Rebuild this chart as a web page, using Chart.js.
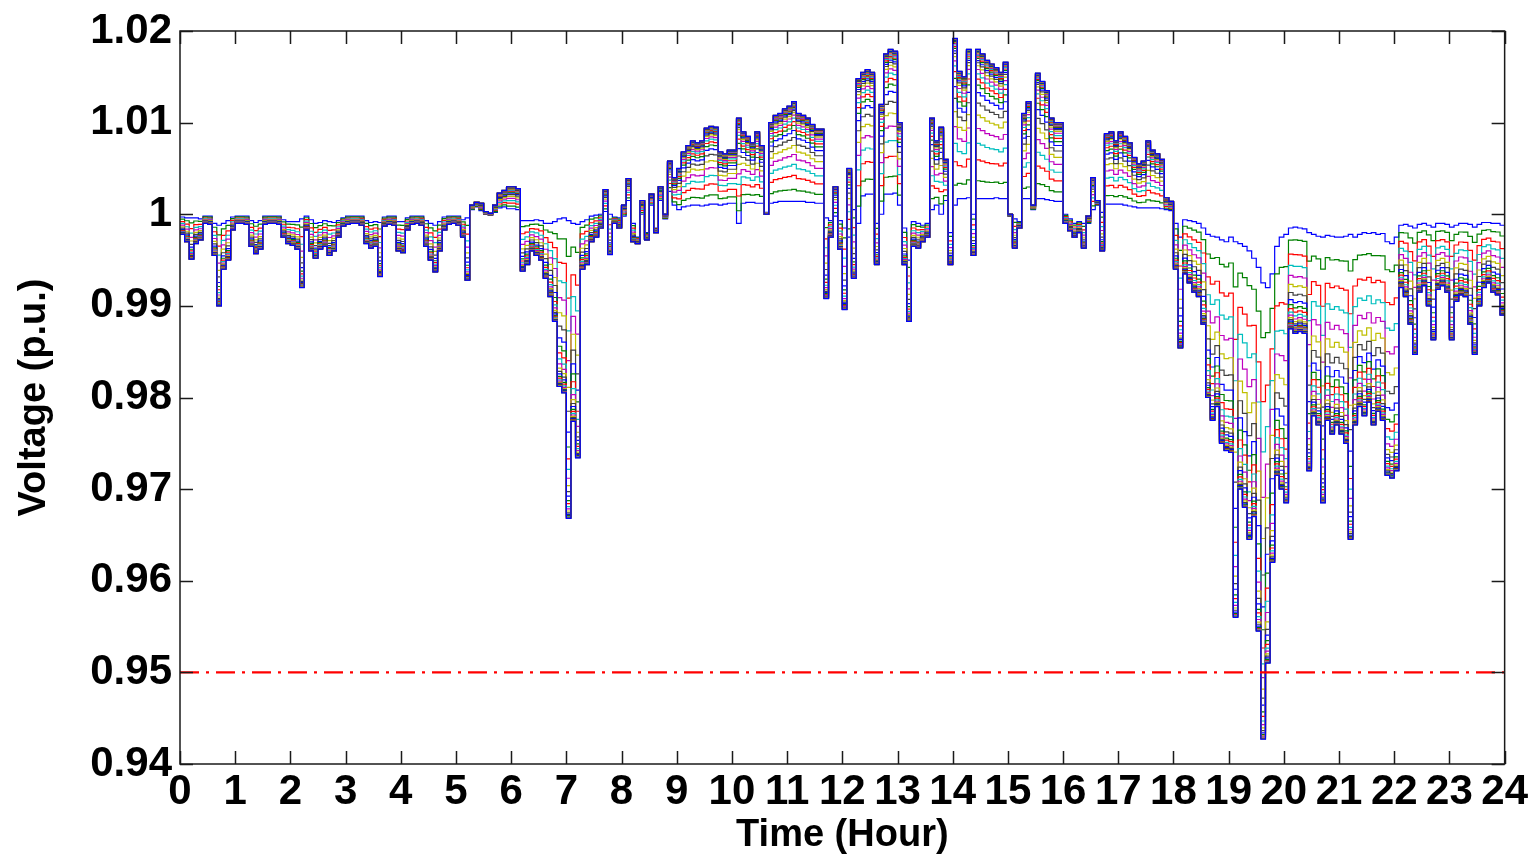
<!DOCTYPE html>
<html>
  <head>
    <script src="https://cdn.jsdelivr.net/npm/chart.js@4/dist/chart.umd.min.js"></script>
    <style>
      body { margin: 0; background: #fff; }
    </style>
  </head>

  <body>
    <canvas id="canvas" width="1535" height="855"></canvas>
    <script>
      // sample step of the profiles, in hours (5 min)
      const stepHours = 1 / 12;

      // node 1 (closest to the substation), one row per hour, last value = 24:00
      const baseV = [
        0.9997, 0.9996, 0.9996, 0.9996, 0.9995, 0.9998, 0.9998, 0.9990, 0.9988, 0.9990, 0.9993, 0.9997,
        0.9998, 0.9998, 0.9998, 0.9993, 0.9991, 0.9993, 0.9998, 0.9998, 0.9998, 0.9998, 0.9994, 0.9992,
        0.9992, 0.9992, 0.9995, 0.9998, 0.9994, 0.9990, 0.9991, 0.9993, 0.9992, 0.9991, 0.9993, 0.9996,
        0.9998, 0.9998, 0.9998, 0.9998, 0.9993, 0.9991, 0.9992, 0.9991, 0.9997, 0.9998, 0.9998, 0.9992,
        0.9992, 0.9996, 0.9998, 0.9998, 0.9998, 0.9993, 0.9990, 0.9988, 0.9992, 0.9997, 0.9998, 0.9998,
        0.9998, 0.9994, 0.9996, 1.0005, 1.0008, 1.0004, 1.0000, 0.9999, 1.0002, 1.0007, 1.0008, 1.0006,
        1.0006, 1.0005, 0.9993, 0.9993, 0.9993, 0.9994, 0.9993, 0.9990, 0.9990, 0.9992, 0.9995, 0.9996,
        0.9993, 0.9990, 0.9989, 0.9992, 0.9994, 0.9998, 0.9999, 1.0000, 1.0003, 1.0000, 0.9997, 0.9996,
        0.9998, 1.0015, 0.9990, 0.9975, 1.0000, 0.9980, 1.0010, 0.9985, 1.0015, 0.9995, 1.0025, 1.0010,
        1.0005, 1.0008, 1.0009, 1.0010, 1.0010, 1.0009, 1.0010, 1.0011, 1.0011, 1.0010, 1.0011, 1.0012,
        1.0012, 0.9990, 1.0012, 1.0013, 1.0013, 1.0012, 1.0012, 1.0002, 1.0012, 1.0013, 1.0014, 1.0014,
        1.0014, 1.0014, 1.0014, 1.0014, 1.0013, 1.0013, 1.0012, 1.0012, 0.9996, 0.9993, 0.9998, 0.9993,
        0.9985, 0.9975, 1.0005, 0.9990, 1.0020, 1.0022, 1.0022, 0.9990, 1.0000, 1.0022, 1.0022, 1.0023,
        1.0010, 0.9985, 0.9950, 0.9992, 0.9990, 0.9988, 0.9990, 1.0005, 1.0010, 1.0000, 1.0015, 0.9980,
        1.0010, 1.0017, 1.0017, 1.0018, 1.0000, 1.0017, 1.0017, 1.0017, 1.0017, 1.0018, 1.0017, 1.0017,
        0.9998, 0.9995, 0.9992, 1.0017, 1.0017, 1.0005, 1.0017, 1.0017, 1.0016, 1.0015, 1.0014, 1.0014,
        1.0000, 0.9995, 0.9990, 0.9992, 0.9990, 0.9990, 1.0005, 1.0010, 1.0002, 1.0011, 1.0011, 1.0011,
        1.0011, 1.0010, 1.0009, 1.0008, 1.0007, 1.0007, 1.0007, 1.0007, 1.0007, 1.0006, 1.0005, 1.0004,
        0.9990, 0.9975, 0.9994, 0.9993, 0.9992, 0.9990, 0.9985, 0.9978, 0.9976, 0.9975, 0.9972, 0.9970,
        0.9975, 0.9970, 0.9968, 0.9965, 0.9960, 0.9952, 0.9942, 0.9925, 0.9920, 0.9935, 0.9965, 0.9975,
        0.9978, 0.9985, 0.9986, 0.9985, 0.9984, 0.9980, 0.9978, 0.9976, 0.9975, 0.9977, 0.9976, 0.9975,
        0.9975, 0.9976, 0.9978, 0.9975, 0.9978, 0.9980, 0.9979, 0.9980, 0.9978, 0.9979, 0.9970, 0.9968,
        0.9975, 0.9988, 0.9989, 0.9987, 0.9985, 0.9989, 0.9990, 0.9988, 0.9986, 0.9990, 0.9990, 0.9989,
        0.9986, 0.9988, 0.9990, 0.9990, 0.9989, 0.9986, 0.9989, 0.9991, 0.9991, 0.9990, 0.9990, 0.9988,
        0.9988,
      ];

      // feeder end node (largest deviation), same time grid
      const endV = [
        0.9978, 0.9970, 0.9951, 0.9968, 0.9972, 0.9990, 0.9989, 0.9955, 0.9900, 0.9940, 0.9950, 0.9983,
        0.9990, 0.9990, 0.9989, 0.9965, 0.9957, 0.9962, 0.9989, 0.9990, 0.9990, 0.9989, 0.9975, 0.9968,
        0.9966, 0.9962, 0.9920, 0.9983, 0.9960, 0.9952, 0.9962, 0.9965, 0.9955, 0.9960, 0.9975, 0.9987,
        0.9989, 0.9990, 0.9990, 0.9988, 0.9968, 0.9963, 0.9965, 0.9932, 0.9987, 0.9989, 0.9988, 0.9960,
        0.9958, 0.9983, 0.9989, 0.9990, 0.9988, 0.9965, 0.9950, 0.9937, 0.9960, 0.9983, 0.9989, 0.9990,
        0.9988, 0.9975, 0.9928, 1.0010, 1.0013, 1.0012, 1.0003, 1.0001, 1.0010, 1.0023, 1.0026, 1.0030,
        1.0030, 1.0028, 0.9938, 0.9945, 0.9960, 0.9955, 0.9950, 0.9930, 0.9910, 0.9883, 0.9812, 0.9805,
        0.9668, 0.9774, 0.9734, 0.9940, 0.9945, 0.9970, 0.9975, 0.9985, 1.0027, 0.9956, 0.9990, 0.9985,
        1.0010, 1.0039, 0.9970, 0.9968, 1.0015, 0.9972, 1.0022, 0.9980, 1.0030, 1.0000, 1.0058, 1.0040,
        1.0050, 1.0068, 1.0075, 1.0080, 1.0078, 1.0080, 1.0094, 1.0096, 1.0095, 1.0068, 1.0066, 1.0070,
        1.0070, 1.0105, 1.0090, 1.0085, 1.0078, 1.0090, 1.0075, 1.0000, 1.0100, 1.0108, 1.0110, 1.0115,
        1.0118, 1.0123, 1.0110, 1.0108, 1.0105, 1.0098, 1.0093, 1.0093, 0.9908, 0.9975, 1.0030, 0.9962,
        0.9896, 1.0050, 0.9930, 1.0148, 1.0155, 1.0158, 1.0155, 0.9945, 1.0120, 1.0175, 1.0180, 1.0178,
        1.0100, 0.9945, 0.9883, 0.9965, 0.9963, 0.9970, 0.9975, 1.0105, 1.0080, 1.0095, 1.0060, 0.9945,
        1.0192, 1.0156, 1.0150, 1.0180, 0.9955, 1.0180, 1.0175, 1.0168, 1.0164, 1.0160, 1.0155, 1.0166,
        1.0000, 0.9963, 0.9985, 1.0110, 1.0123, 1.0010, 1.0154, 1.0145, 1.0135, 1.0105, 1.0100, 1.0100,
        0.9990, 0.9982, 0.9975, 0.9980, 0.9963, 0.9998, 1.0040, 1.0015, 0.9960, 1.0088, 1.0090, 1.0080,
        1.0090, 1.0085, 1.0078, 1.0062, 1.0055, 1.0058, 1.0080, 1.0070, 1.0066, 1.0060, 1.0018, 1.0014,
        0.9940, 0.9854, 0.9935, 0.9925, 0.9915, 0.9910, 0.9880, 0.9800, 0.9775, 0.9790, 0.9750, 0.9742,
        0.9740, 0.9560, 0.9700, 0.9680, 0.9645, 0.9670, 0.9545, 0.9427, 0.9510, 0.9620, 0.9715, 0.9700,
        0.9685, 0.9875, 0.9870, 0.9872, 0.9870, 0.9720, 0.9780, 0.9770, 0.9685, 0.9775, 0.9760, 0.9770,
        0.9760, 0.9750, 0.9645, 0.9770, 0.9790, 0.9780, 0.9795, 0.9770, 0.9785, 0.9775, 0.9715, 0.9712,
        0.9720, 0.9920, 0.9910, 0.9880, 0.9847, 0.9915, 0.9922, 0.9900, 0.9863, 0.9918, 0.9922, 0.9915,
        0.9863, 0.9905, 0.9912, 0.9910, 0.9880, 0.9847, 0.9900, 0.9920, 0.9925, 0.9915, 0.9912, 0.9890,
        0.9895,
      ];

      // share of the end-node deviation seen at each node along the feeder
      const nodeShare = [
        0, 0.12, 0.26, 0.37, 0.47, 0.56, 0.64, 0.71, 0.76, 0.80, 0.835, 0.865, 0.89, 0.91, 0.925,
        0.94, 0.95, 0.96, 0.968, 0.975, 0.981, 0.986, 0.99, 0.993, 0.995, 0.997, 0.998, 0.999, 1,
      ];

      // old MATLAB line order: b g r c m y k
      const lineColors = ['#0000ff', '#008000', '#ff0000', '#00bfbf', '#bf00bf', '#bfbf00', '#404040'];

      const hourTicks = [0, 1, 2, 3, 4, 5, 6, 7, 8, 9, 10, 11, 12, 13, 14, 15, 16, 17, 18, 19, 20, 21, 22, 23, 24];
      const voltTicks = [0.94, 0.95, 0.96, 0.97, 0.98, 0.99, 1.0, 1.01, 1.02];
      const limitV = 0.95;

      const datasets = nodeShare.map((f, k) => ({
        data: baseV.map((b, i) => ({ x: i * stepHours, y: b + f * (endV[i] - b) })),
        borderColor: lineColors[k % lineColors.length],
        borderWidth: 1.2,
        pointRadius: 0,
        stepped: true,
        order: nodeShare.length - k,
      }));

      // lower voltage limit, dash-dot
      datasets.push({
        data: [{ x: hourTicks[0], y: limitV }, { x: hourTicks[hourTicks.length - 1], y: limitV }],
        borderColor: '#ff0000',
        borderWidth: 2.4,
        borderDash: [19, 7, 3, 7],
        pointRadius: 0,
        order: -1,
      });

      // MATLAB-style box with ticks pointing inwards on all four sides
      const boxTicks = {
        id: 'boxTicks',
        afterDatasetsDraw(chart) {
          const { ctx, chartArea: a, scales } = chart;
          const len = 13;
          ctx.save();
          ctx.strokeStyle = '#1a1a1a';
          ctx.lineWidth = 1.5;
          ctx.beginPath();
          scales.x.ticks.forEach((t) => {
            const px = Math.round(scales.x.getPixelForValue(t.value)) + 0.5;
            ctx.moveTo(px, a.bottom);
            ctx.lineTo(px, a.bottom - len);
            ctx.moveTo(px, a.top);
            ctx.lineTo(px, a.top + len);
          });
          scales.y.ticks.forEach((t) => {
            const py = Math.round(scales.y.getPixelForValue(t.value)) + 0.5;
            ctx.moveTo(a.left, py);
            ctx.lineTo(a.left + len, py);
            ctx.moveTo(a.right, py);
            ctx.lineTo(a.right - len, py);
          });
          ctx.stroke();
          ctx.strokeRect(a.left, a.top, a.right - a.left, a.bottom - a.top);
          ctx.restore();
        },
      };

      const tickFont = { family: 'Liberation Sans', weight: 'bold', size: 42, lineHeight: 1 };
      const titleFont = { family: 'Liberation Sans', weight: 'bold', size: 38, lineHeight: 1 };

      new Chart(document.getElementById('canvas').getContext('2d'), {
        type: 'line',
        data: { datasets },
        plugins: [boxTicks],
        options: {
          responsive: false,
          devicePixelRatio: 1,
          animation: false,
          events: [],
          layout: { padding: { left: 0, right: 28, top: 31, bottom: 0 } },
          plugins: {
            legend: { display: false },
            tooltip: { enabled: false },
          },
          scales: {
            x: {
              type: 'linear',
              min: 0,
              max: 24,
              afterBuildTicks: (s) => { s.ticks = hourTicks.map((v) => ({ value: v })); },
              afterFit: (s) => { s.height = 855 - 764; },
              grid: { display: false, drawTicks: false },
              border: { display: false },
              ticks: {
                color: '#000',
                font: tickFont,
                padding: 7,
                maxRotation: 0,
                autoSkip: false,
                callback: (v) => String(v),
              },
              title: {
                display: true,
                text: 'Time (Hour)',
                color: '#000',
                font: titleFont,
                padding: { top: 0, bottom: 0 },
              },
            },
            y: {
              type: 'linear',
              min: 0.94,
              max: 1.02,
              afterBuildTicks: (s) => { s.ticks = voltTicks.map((v) => ({ value: v })); },
              afterFit: (s) => { s.width = 180; },
              grid: { display: false, drawTicks: false },
              border: { display: false },
              ticks: {
                color: '#000',
                font: tickFont,
                padding: 8,
                callback: (v) => String(+v.toFixed(2)),
              },
              title: {
                display: true,
                text: 'Voltage (p.u.)',
                color: '#000',
                font: titleFont,
                padding: { top: 16, bottom: 0 },
              },
            },
          },
        },
      });
    </script>
  </body>
</html>
